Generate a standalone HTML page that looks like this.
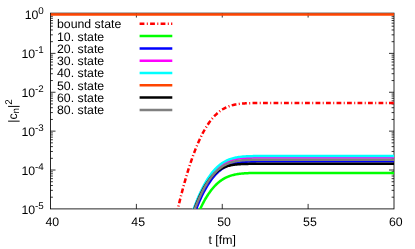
<!DOCTYPE html>
<html><head><meta charset="utf-8"><title>plot</title><style>
html,body{margin:0;padding:0;background:#fff;overflow:hidden}
svg{display:block}
text{text-rendering:geometricPrecision;font-family:"Liberation Sans",sans-serif;font-size:12.3px;fill:#000}
.s{font-size:9.8px}
</style></head><body>
<svg width="415" height="249" viewBox="0 0 415 249">
<rect x="0" y="0" width="415" height="249" fill="#fff"/>
<defs><filter id="b" x="0" y="0" width="415" height="249" filterUnits="userSpaceOnUse"><feGaussianBlur stdDeviation="0.3"/></filter><clipPath id="c"><rect x="50.50" y="11.15" width="343.50" height="197.75"/></clipPath></defs>
<g filter="url(#b)">
<g fill="none" stroke="#000" stroke-width="0.85">
<path d="M50.50,14.50h5.00M394.00,14.50h-5.00M50.50,41.68h2.40M394.00,41.68h-2.40M50.50,34.83h2.40M394.00,34.83h-2.40M50.50,29.97h2.40M394.00,29.97h-2.40M50.50,26.20h2.40M394.00,26.20h-2.40M50.50,23.13h2.40M394.00,23.13h-2.40M50.50,20.52h2.40M394.00,20.52h-2.40M50.50,18.27h2.40M394.00,18.27h-2.40M50.50,16.28h2.40M394.00,16.28h-2.40M50.50,53.38h5.00M394.00,53.38h-5.00M50.50,80.56h2.40M394.00,80.56h-2.40M50.50,73.71h2.40M394.00,73.71h-2.40M50.50,68.85h2.40M394.00,68.85h-2.40M50.50,65.08h2.40M394.00,65.08h-2.40M50.50,62.01h2.40M394.00,62.01h-2.40M50.50,59.40h2.40M394.00,59.40h-2.40M50.50,57.15h2.40M394.00,57.15h-2.40M50.50,55.16h2.40M394.00,55.16h-2.40M50.50,92.26h5.00M394.00,92.26h-5.00M50.50,119.44h2.40M394.00,119.44h-2.40M50.50,112.59h2.40M394.00,112.59h-2.40M50.50,107.73h2.40M394.00,107.73h-2.40M50.50,103.96h2.40M394.00,103.96h-2.40M50.50,100.89h2.40M394.00,100.89h-2.40M50.50,98.28h2.40M394.00,98.28h-2.40M50.50,96.03h2.40M394.00,96.03h-2.40M50.50,94.04h2.40M394.00,94.04h-2.40M50.50,131.14h5.00M394.00,131.14h-5.00M50.50,158.32h2.40M394.00,158.32h-2.40M50.50,151.47h2.40M394.00,151.47h-2.40M50.50,146.61h2.40M394.00,146.61h-2.40M50.50,142.84h2.40M394.00,142.84h-2.40M50.50,139.77h2.40M394.00,139.77h-2.40M50.50,137.16h2.40M394.00,137.16h-2.40M50.50,134.91h2.40M394.00,134.91h-2.40M50.50,132.92h2.40M394.00,132.92h-2.40M50.50,170.02h5.00M394.00,170.02h-5.00M50.50,197.20h2.40M394.00,197.20h-2.40M50.50,190.35h2.40M394.00,190.35h-2.40M50.50,185.49h2.40M394.00,185.49h-2.40M50.50,181.72h2.40M394.00,181.72h-2.40M50.50,178.65h2.40M394.00,178.65h-2.40M50.50,176.04h2.40M394.00,176.04h-2.40M50.50,173.79h2.40M394.00,173.79h-2.40M50.50,171.80h2.40M394.00,171.80h-2.40M136.38,208.90v-5.00M136.38,13.15v4.40M222.25,208.90v-5.00M222.25,13.15v4.40M308.12,208.90v-5.00M308.12,13.15v4.40" stroke-width="0.8"/>
<rect x="50.50" y="13.15" width="343.50" height="195.75"/>
</g>
<g fill="none" stroke-width="2.50" stroke-linejoin="round" clip-path="url(#c)">
<path d="M176.74,213.52 L177.59,209.81 L178.45,206.17 L179.31,202.61 L180.17,199.13 L181.03,195.72 L181.89,192.39 L182.75,189.13 L183.61,185.95 L184.46,182.84 L185.32,179.80 L186.18,176.84 L187.04,173.94 L187.90,171.13 L188.76,168.38 L189.62,165.70 L190.48,163.09 L191.33,160.56 L192.19,158.09 L193.05,155.69 L193.91,153.36 L194.77,151.10 L195.63,148.90 L196.49,146.77 L197.35,144.71 L198.20,142.71 L199.06,140.78 L199.92,138.91 L200.78,137.10 L201.64,135.35 L202.50,133.67 L203.36,132.04 L204.22,130.48 L205.07,128.97 L205.93,127.53 L206.79,126.13 L207.65,124.80 L208.51,123.52 L209.37,122.29 L210.23,121.12 L211.09,119.99 L211.94,118.92 L212.80,117.90 L213.66,116.92 L214.52,115.99 L215.38,115.11 L216.24,114.28 L217.10,113.48 L217.96,112.73 L218.81,112.02 L219.67,111.35 L220.53,110.72 L221.39,110.12 L222.25,109.56 L223.11,109.03 L223.97,108.54 L224.83,108.08 L225.68,107.65 L226.54,107.25 L227.40,106.88 L228.26,106.53 L229.12,106.21 L229.98,105.91 L230.84,105.64 L231.70,105.38 L232.55,105.15 L233.41,104.94 L234.27,104.74 L235.13,104.56 L235.99,104.40 L236.85,104.25 L237.71,104.11 L238.57,103.99 L239.42,103.88 L240.28,103.78 L241.14,103.69 L242.00,103.61 L242.86,103.53 L243.72,103.47 L244.58,103.41 L245.44,103.36 L246.29,103.31 L247.15,103.27 L248.01,103.24 L248.87,103.20 L249.73,103.18 L250.59,103.15 L251.45,103.13 L252.31,103.11 L253.16,103.10 L254.02,103.08 L254.88,103.07 L255.74,103.06 L256.60,103.05 L257.46,103.04 L258.32,103.04 L259.18,103.03 L260.03,103.03 L260.89,103.02 L261.75,103.02 L262.61,103.01 L263.47,103.01 L264.33,103.01 L265.19,103.01 L266.05,103.01 L266.90,103.01 L267.76,103.00 L268.62,103.00 L269.48,103.00 L270.34,103.00 L271.20,103.00 L272.06,103.00 L272.92,103.00 L273.77,103.00 L274.63,103.00 L275.49,103.00 L276.35,103.00 L277.21,103.00 L278.07,103.00 L278.93,103.00 L279.79,103.00 L280.64,103.00 L281.50,103.00 L282.36,103.00 L283.22,103.00 L284.08,103.00 L284.94,103.00 L285.80,103.00 L286.66,103.00 L287.51,103.00 L288.37,103.00 L289.23,103.00 L290.09,103.00 L290.95,103.00 L291.81,103.00 L292.67,103.00 L293.53,103.00 L294.38,103.00 L295.24,103.00 L296.10,103.00 L296.96,103.00 L297.82,103.00 L298.68,103.00 L299.54,103.00 L300.40,103.00 L301.25,103.00 L302.11,103.00 L302.97,103.00 L303.83,103.00 L304.69,103.00 L305.55,103.00 L306.41,103.00 L307.27,103.00 L308.12,103.00 L308.98,103.00 L309.84,103.00 L310.70,103.00 L311.56,103.00 L312.42,103.00 L313.28,103.00 L314.14,103.00 L314.99,103.00 L315.85,103.00 L316.71,103.00 L317.57,103.00 L318.43,103.00 L319.29,103.00 L320.15,103.00 L321.01,103.00 L321.86,103.00 L322.72,103.00 L323.58,103.00 L324.44,103.00 L325.30,103.00 L326.16,103.00 L327.02,103.00 L327.88,103.00 L328.73,103.00 L329.59,103.00 L330.45,103.00 L331.31,103.00 L332.17,103.00 L333.03,103.00 L333.89,103.00 L334.75,103.00 L335.60,103.00 L336.46,103.00 L337.32,103.00 L338.18,103.00 L339.04,103.00 L339.90,103.00 L340.76,103.00 L341.62,103.00 L342.47,103.00 L343.33,103.00 L344.19,103.00 L345.05,103.00 L345.91,103.00 L346.77,103.00 L347.63,103.00 L348.49,103.00 L349.34,103.00 L350.20,103.00 L351.06,103.00 L351.92,103.00 L352.78,103.00 L353.64,103.00 L354.50,103.00 L355.36,103.00 L356.21,103.00 L357.07,103.00 L357.93,103.00 L358.79,103.00 L359.65,103.00 L360.51,103.00 L361.37,103.00 L362.23,103.00 L363.08,103.00 L363.94,103.00 L364.80,103.00 L365.66,103.00 L366.52,103.00 L367.38,103.00 L368.24,103.00 L369.10,103.00 L369.95,103.00 L370.81,103.00 L371.67,103.00 L372.53,103.00 L373.39,103.00 L374.25,103.00 L375.11,103.00 L375.97,103.00 L376.82,103.00 L377.68,103.00 L378.54,103.00 L379.40,103.00 L380.26,103.00 L381.12,103.00 L381.98,103.00 L382.84,103.00 L383.69,103.00 L384.55,103.00 L385.41,103.00 L386.27,103.00 L387.13,103.00 L387.99,103.00 L388.85,103.00 L389.71,103.00 L390.56,103.00 L391.42,103.00 L392.28,103.00 L393.14,103.00 L394.00,103.00" stroke="#ff0000" stroke-dasharray="4.8 2.4 1 2.3"/>
<path d="M198.20,213.40 L199.06,211.44 L199.92,209.55 L200.78,207.71 L201.64,205.94 L202.50,204.24 L203.36,202.59 L204.22,201.00 L205.07,199.47 L205.93,198.00 L206.79,196.58 L207.65,195.23 L208.51,193.92 L209.37,192.67 L210.23,191.48 L211.09,190.34 L211.94,189.24 L212.80,188.20 L213.66,187.21 L214.52,186.26 L215.38,185.36 L216.24,184.50 L217.10,183.69 L217.96,182.93 L218.81,182.20 L219.67,181.51 L220.53,180.86 L221.39,180.25 L222.25,179.68 L223.11,179.14 L223.97,178.64 L224.83,178.16 L225.68,177.72 L226.54,177.31 L227.40,176.92 L228.26,176.57 L229.12,176.23 L229.98,175.93 L230.84,175.64 L231.70,175.38 L232.55,175.14 L233.41,174.92 L234.27,174.72 L235.13,174.53 L235.99,174.36 L236.85,174.21 L237.71,174.06 L238.57,173.94 L239.42,173.82 L240.28,173.72 L241.14,173.62 L242.00,173.54 L242.86,173.46 L243.72,173.39 L244.58,173.33 L245.44,173.28 L246.29,173.23 L247.15,173.19 L248.01,173.15 L248.87,173.12 L249.73,173.09 L250.59,173.06 L251.45,173.04 L252.31,173.02 L253.16,173.00 L254.02,172.99 L254.88,172.97 L255.74,172.96 L256.60,172.95 L257.46,172.95 L258.32,172.94 L259.18,172.93 L260.03,172.93 L260.89,172.92 L261.75,172.92 L262.61,172.92 L263.47,172.91 L264.33,172.91 L265.19,172.91 L266.05,172.91 L266.90,172.91 L267.76,172.91 L268.62,172.90 L269.48,172.90 L270.34,172.90 L271.20,172.90 L272.06,172.90 L272.92,172.90 L273.77,172.90 L274.63,172.90 L275.49,172.90 L276.35,172.90 L277.21,172.90 L278.07,172.90 L278.93,172.90 L279.79,172.90 L280.64,172.90 L281.50,172.90 L282.36,172.90 L283.22,172.90 L284.08,172.90 L284.94,172.90 L285.80,172.90 L286.66,172.90 L287.51,172.90 L288.37,172.90 L289.23,172.90 L290.09,172.90 L290.95,172.90 L291.81,172.90 L292.67,172.90 L293.53,172.90 L294.38,172.90 L295.24,172.90 L296.10,172.90 L296.96,172.90 L297.82,172.90 L298.68,172.90 L299.54,172.90 L300.40,172.90 L301.25,172.90 L302.11,172.90 L302.97,172.90 L303.83,172.90 L304.69,172.90 L305.55,172.90 L306.41,172.90 L307.27,172.90 L308.12,172.90 L308.98,172.90 L309.84,172.90 L310.70,172.90 L311.56,172.90 L312.42,172.90 L313.28,172.90 L314.14,172.90 L314.99,172.90 L315.85,172.90 L316.71,172.90 L317.57,172.90 L318.43,172.90 L319.29,172.90 L320.15,172.90 L321.01,172.90 L321.86,172.90 L322.72,172.90 L323.58,172.90 L324.44,172.90 L325.30,172.90 L326.16,172.90 L327.02,172.90 L327.88,172.90 L328.73,172.90 L329.59,172.90 L330.45,172.90 L331.31,172.90 L332.17,172.90 L333.03,172.90 L333.89,172.90 L334.75,172.90 L335.60,172.90 L336.46,172.90 L337.32,172.90 L338.18,172.90 L339.04,172.90 L339.90,172.90 L340.76,172.90 L341.62,172.90 L342.47,172.90 L343.33,172.90 L344.19,172.90 L345.05,172.90 L345.91,172.90 L346.77,172.90 L347.63,172.90 L348.49,172.90 L349.34,172.90 L350.20,172.90 L351.06,172.90 L351.92,172.90 L352.78,172.90 L353.64,172.90 L354.50,172.90 L355.36,172.90 L356.21,172.90 L357.07,172.90 L357.93,172.90 L358.79,172.90 L359.65,172.90 L360.51,172.90 L361.37,172.90 L362.23,172.90 L363.08,172.90 L363.94,172.90 L364.80,172.90 L365.66,172.90 L366.52,172.90 L367.38,172.90 L368.24,172.90 L369.10,172.90 L369.95,172.90 L370.81,172.90 L371.67,172.90 L372.53,172.90 L373.39,172.90 L374.25,172.90 L375.11,172.90 L375.97,172.90 L376.82,172.90 L377.68,172.90 L378.54,172.90 L379.40,172.90 L380.26,172.90 L381.12,172.90 L381.98,172.90 L382.84,172.90 L383.69,172.90 L384.55,172.90 L385.41,172.90 L386.27,172.90 L387.13,172.90 L387.99,172.90 L388.85,172.90 L389.71,172.90 L390.56,172.90 L391.42,172.90 L392.28,172.90 L393.14,172.90 L394.00,172.90" stroke="#00ff00"/>
<path d="M194.77,212.82 L195.63,210.52 L196.49,208.29 L197.35,206.13 L198.20,204.03 L199.06,202.00 L199.92,200.04 L200.78,198.13 L201.64,196.30 L202.50,194.52 L203.36,192.80 L204.22,191.15 L205.07,189.56 L205.93,188.02 L206.79,186.54 L207.65,185.12 L208.51,183.76 L209.37,182.45 L210.23,181.20 L211.09,180.00 L211.94,178.85 L212.80,177.75 L213.66,176.70 L214.52,175.70 L215.38,174.75 L216.24,173.85 L217.10,172.99 L217.96,172.17 L218.81,171.40 L219.67,170.67 L220.53,169.98 L221.39,169.33 L222.25,168.71 L223.11,168.14 L223.97,167.59 L224.83,167.08 L225.68,166.61 L226.54,166.16 L227.40,165.75 L228.26,165.36 L229.12,165.00 L229.98,164.67 L230.84,164.36 L231.70,164.07 L232.55,163.81 L233.41,163.56 L234.27,163.34 L235.13,163.14 L235.99,162.95 L236.85,162.78 L237.71,162.62 L238.57,162.48 L239.42,162.35 L240.28,162.23 L241.14,162.13 L242.00,162.03 L242.86,161.95 L243.72,161.87 L244.58,161.80 L245.44,161.74 L246.29,161.68 L247.15,161.63 L248.01,161.59 L248.87,161.55 L249.73,161.52 L250.59,161.49 L251.45,161.46 L252.31,161.44 L253.16,161.42 L254.02,161.40 L254.88,161.39 L255.74,161.38 L256.60,161.36 L257.46,161.35 L258.32,161.35 L259.18,161.34 L260.03,161.33 L260.89,161.33 L261.75,161.32 L262.61,161.32 L263.47,161.32 L264.33,161.31 L265.19,161.31 L266.05,161.31 L266.90,161.31 L267.76,161.31 L268.62,161.31 L269.48,161.30 L270.34,161.30 L271.20,161.30 L272.06,161.30 L272.92,161.30 L273.77,161.30 L274.63,161.30 L275.49,161.30 L276.35,161.30 L277.21,161.30 L278.07,161.30 L278.93,161.30 L279.79,161.30 L280.64,161.30 L281.50,161.30 L282.36,161.30 L283.22,161.30 L284.08,161.30 L284.94,161.30 L285.80,161.30 L286.66,161.30 L287.51,161.30 L288.37,161.30 L289.23,161.30 L290.09,161.30 L290.95,161.30 L291.81,161.30 L292.67,161.30 L293.53,161.30 L294.38,161.30 L295.24,161.30 L296.10,161.30 L296.96,161.30 L297.82,161.30 L298.68,161.30 L299.54,161.30 L300.40,161.30 L301.25,161.30 L302.11,161.30 L302.97,161.30 L303.83,161.30 L304.69,161.30 L305.55,161.30 L306.41,161.30 L307.27,161.30 L308.12,161.30 L308.98,161.30 L309.84,161.30 L310.70,161.30 L311.56,161.30 L312.42,161.30 L313.28,161.30 L314.14,161.30 L314.99,161.30 L315.85,161.30 L316.71,161.30 L317.57,161.30 L318.43,161.30 L319.29,161.30 L320.15,161.30 L321.01,161.30 L321.86,161.30 L322.72,161.30 L323.58,161.30 L324.44,161.30 L325.30,161.30 L326.16,161.30 L327.02,161.30 L327.88,161.30 L328.73,161.30 L329.59,161.30 L330.45,161.30 L331.31,161.30 L332.17,161.30 L333.03,161.30 L333.89,161.30 L334.75,161.30 L335.60,161.30 L336.46,161.30 L337.32,161.30 L338.18,161.30 L339.04,161.30 L339.90,161.30 L340.76,161.30 L341.62,161.30 L342.47,161.30 L343.33,161.30 L344.19,161.30 L345.05,161.30 L345.91,161.30 L346.77,161.30 L347.63,161.30 L348.49,161.30 L349.34,161.30 L350.20,161.30 L351.06,161.30 L351.92,161.30 L352.78,161.30 L353.64,161.30 L354.50,161.30 L355.36,161.30 L356.21,161.30 L357.07,161.30 L357.93,161.30 L358.79,161.30 L359.65,161.30 L360.51,161.30 L361.37,161.30 L362.23,161.30 L363.08,161.30 L363.94,161.30 L364.80,161.30 L365.66,161.30 L366.52,161.30 L367.38,161.30 L368.24,161.30 L369.10,161.30 L369.95,161.30 L370.81,161.30 L371.67,161.30 L372.53,161.30 L373.39,161.30 L374.25,161.30 L375.11,161.30 L375.97,161.30 L376.82,161.30 L377.68,161.30 L378.54,161.30 L379.40,161.30 L380.26,161.30 L381.12,161.30 L381.98,161.30 L382.84,161.30 L383.69,161.30 L384.55,161.30 L385.41,161.30 L386.27,161.30 L387.13,161.30 L387.99,161.30 L388.85,161.30 L389.71,161.30 L390.56,161.30 L391.42,161.30 L392.28,161.30 L393.14,161.30 L394.00,161.30" stroke="#0000ff"/>
<path d="M192.19,213.91 L193.05,211.48 L193.91,209.11 L194.77,206.81 L195.63,204.58 L196.49,202.41 L197.35,200.32 L198.20,198.28 L199.06,196.31 L199.92,194.41 L200.78,192.57 L201.64,190.79 L202.50,189.07 L203.36,187.41 L204.22,185.82 L205.07,184.28 L205.93,182.80 L206.79,181.38 L207.65,180.01 L208.51,178.70 L209.37,177.45 L210.23,176.24 L211.09,175.09 L211.94,173.99 L212.80,172.94 L213.66,171.94 L214.52,170.99 L215.38,170.08 L216.24,169.22 L217.10,168.40 L217.96,167.63 L218.81,166.90 L219.67,166.21 L220.53,165.55 L221.39,164.94 L222.25,164.36 L223.11,163.81 L223.97,163.30 L224.83,162.83 L225.68,162.38 L226.54,161.96 L227.40,161.58 L228.26,161.21 L229.12,160.88 L229.98,160.57 L230.84,160.28 L231.70,160.02 L232.55,159.77 L233.41,159.55 L234.27,159.34 L235.13,159.15 L235.99,158.98 L236.85,158.83 L237.71,158.68 L238.57,158.55 L239.42,158.44 L240.28,158.33 L241.14,158.23 L242.00,158.15 L242.86,158.07 L243.72,158.00 L244.58,157.94 L245.44,157.89 L246.29,157.84 L247.15,157.79 L248.01,157.75 L248.87,157.72 L249.73,157.69 L250.59,157.66 L251.45,157.64 L252.31,157.62 L253.16,157.60 L254.02,157.59 L254.88,157.58 L255.74,157.56 L256.60,157.56 L257.46,157.55 L258.32,157.54 L259.18,157.53 L260.03,157.53 L260.89,157.52 L261.75,157.52 L262.61,157.52 L263.47,157.51 L264.33,157.51 L265.19,157.51 L266.05,157.51 L266.90,157.51 L267.76,157.51 L268.62,157.50 L269.48,157.50 L270.34,157.50 L271.20,157.50 L272.06,157.50 L272.92,157.50 L273.77,157.50 L274.63,157.50 L275.49,157.50 L276.35,157.50 L277.21,157.50 L278.07,157.50 L278.93,157.50 L279.79,157.50 L280.64,157.50 L281.50,157.50 L282.36,157.50 L283.22,157.50 L284.08,157.50 L284.94,157.50 L285.80,157.50 L286.66,157.50 L287.51,157.50 L288.37,157.50 L289.23,157.50 L290.09,157.50 L290.95,157.50 L291.81,157.50 L292.67,157.50 L293.53,157.50 L294.38,157.50 L295.24,157.50 L296.10,157.50 L296.96,157.50 L297.82,157.50 L298.68,157.50 L299.54,157.50 L300.40,157.50 L301.25,157.50 L302.11,157.50 L302.97,157.50 L303.83,157.50 L304.69,157.50 L305.55,157.50 L306.41,157.50 L307.27,157.50 L308.12,157.50 L308.98,157.50 L309.84,157.50 L310.70,157.50 L311.56,157.50 L312.42,157.50 L313.28,157.50 L314.14,157.50 L314.99,157.50 L315.85,157.50 L316.71,157.50 L317.57,157.50 L318.43,157.50 L319.29,157.50 L320.15,157.50 L321.01,157.50 L321.86,157.50 L322.72,157.50 L323.58,157.50 L324.44,157.50 L325.30,157.50 L326.16,157.50 L327.02,157.50 L327.88,157.50 L328.73,157.50 L329.59,157.50 L330.45,157.50 L331.31,157.50 L332.17,157.50 L333.03,157.50 L333.89,157.50 L334.75,157.50 L335.60,157.50 L336.46,157.50 L337.32,157.50 L338.18,157.50 L339.04,157.50 L339.90,157.50 L340.76,157.50 L341.62,157.50 L342.47,157.50 L343.33,157.50 L344.19,157.50 L345.05,157.50 L345.91,157.50 L346.77,157.50 L347.63,157.50 L348.49,157.50 L349.34,157.50 L350.20,157.50 L351.06,157.50 L351.92,157.50 L352.78,157.50 L353.64,157.50 L354.50,157.50 L355.36,157.50 L356.21,157.50 L357.07,157.50 L357.93,157.50 L358.79,157.50 L359.65,157.50 L360.51,157.50 L361.37,157.50 L362.23,157.50 L363.08,157.50 L363.94,157.50 L364.80,157.50 L365.66,157.50 L366.52,157.50 L367.38,157.50 L368.24,157.50 L369.10,157.50 L369.95,157.50 L370.81,157.50 L371.67,157.50 L372.53,157.50 L373.39,157.50 L374.25,157.50 L375.11,157.50 L375.97,157.50 L376.82,157.50 L377.68,157.50 L378.54,157.50 L379.40,157.50 L380.26,157.50 L381.12,157.50 L381.98,157.50 L382.84,157.50 L383.69,157.50 L384.55,157.50 L385.41,157.50 L386.27,157.50 L387.13,157.50 L387.99,157.50 L388.85,157.50 L389.71,157.50 L390.56,157.50 L391.42,157.50 L392.28,157.50 L393.14,157.50 L394.00,157.50" stroke="#ff00ff"/>
<path d="M192.19,213.31 L193.05,210.85 L193.91,208.45 L194.77,206.13 L195.63,203.88 L196.49,201.69 L197.35,199.56 L198.20,197.51 L199.06,195.52 L199.92,193.59 L200.78,191.72 L201.64,189.92 L202.50,188.18 L203.36,186.50 L204.22,184.89 L205.07,183.33 L205.93,181.83 L206.79,180.38 L207.65,179.00 L208.51,177.67 L209.37,176.39 L210.23,175.17 L211.09,174.00 L211.94,172.88 L212.80,171.82 L213.66,170.80 L214.52,169.83 L215.38,168.90 L216.24,168.03 L217.10,167.19 L217.96,166.40 L218.81,165.66 L219.67,164.95 L220.53,164.28 L221.39,163.65 L222.25,163.06 L223.11,162.51 L223.97,161.98 L224.83,161.50 L225.68,161.04 L226.54,160.61 L227.40,160.21 L228.26,159.84 L229.12,159.50 L229.98,159.18 L230.84,158.88 L231.70,158.61 L232.55,158.36 L233.41,158.13 L234.27,157.92 L235.13,157.72 L235.99,157.54 L236.85,157.38 L237.71,157.23 L238.57,157.10 L239.42,156.98 L240.28,156.87 L241.14,156.77 L242.00,156.68 L242.86,156.60 L243.72,156.53 L244.58,156.46 L245.44,156.40 L246.29,156.35 L247.15,156.31 L248.01,156.27 L248.87,156.23 L249.73,156.20 L250.59,156.17 L251.45,156.15 L252.31,156.13 L253.16,156.11 L254.02,156.09 L254.88,156.08 L255.74,156.07 L256.60,156.06 L257.46,156.05 L258.32,156.04 L259.18,156.04 L260.03,156.03 L260.89,156.03 L261.75,156.02 L262.61,156.02 L263.47,156.01 L264.33,156.01 L265.19,156.01 L266.05,156.01 L266.90,156.01 L267.76,156.01 L268.62,156.00 L269.48,156.00 L270.34,156.00 L271.20,156.00 L272.06,156.00 L272.92,156.00 L273.77,156.00 L274.63,156.00 L275.49,156.00 L276.35,156.00 L277.21,156.00 L278.07,156.00 L278.93,156.00 L279.79,156.00 L280.64,156.00 L281.50,156.00 L282.36,156.00 L283.22,156.00 L284.08,156.00 L284.94,156.00 L285.80,156.00 L286.66,156.00 L287.51,156.00 L288.37,156.00 L289.23,156.00 L290.09,156.00 L290.95,156.00 L291.81,156.00 L292.67,156.00 L293.53,156.00 L294.38,156.00 L295.24,156.00 L296.10,156.00 L296.96,156.00 L297.82,156.00 L298.68,156.00 L299.54,156.00 L300.40,156.00 L301.25,156.00 L302.11,156.00 L302.97,156.00 L303.83,156.00 L304.69,156.00 L305.55,156.00 L306.41,156.00 L307.27,156.00 L308.12,156.00 L308.98,156.00 L309.84,156.00 L310.70,156.00 L311.56,156.00 L312.42,156.00 L313.28,156.00 L314.14,156.00 L314.99,156.00 L315.85,156.00 L316.71,156.00 L317.57,156.00 L318.43,156.00 L319.29,156.00 L320.15,156.00 L321.01,156.00 L321.86,156.00 L322.72,156.00 L323.58,156.00 L324.44,156.00 L325.30,156.00 L326.16,156.00 L327.02,156.00 L327.88,156.00 L328.73,156.00 L329.59,156.00 L330.45,156.00 L331.31,156.00 L332.17,156.00 L333.03,156.00 L333.89,156.00 L334.75,156.00 L335.60,156.00 L336.46,156.00 L337.32,156.00 L338.18,156.00 L339.04,156.00 L339.90,156.00 L340.76,156.00 L341.62,156.00 L342.47,156.00 L343.33,156.00 L344.19,156.00 L345.05,156.00 L345.91,156.00 L346.77,156.00 L347.63,156.00 L348.49,156.00 L349.34,156.00 L350.20,156.00 L351.06,156.00 L351.92,156.00 L352.78,156.00 L353.64,156.00 L354.50,156.00 L355.36,156.00 L356.21,156.00 L357.07,156.00 L357.93,156.00 L358.79,156.00 L359.65,156.00 L360.51,156.00 L361.37,156.00 L362.23,156.00 L363.08,156.00 L363.94,156.00 L364.80,156.00 L365.66,156.00 L366.52,156.00 L367.38,156.00 L368.24,156.00 L369.10,156.00 L369.95,156.00 L370.81,156.00 L371.67,156.00 L372.53,156.00 L373.39,156.00 L374.25,156.00 L375.11,156.00 L375.97,156.00 L376.82,156.00 L377.68,156.00 L378.54,156.00 L379.40,156.00 L380.26,156.00 L381.12,156.00 L381.98,156.00 L382.84,156.00 L383.69,156.00 L384.55,156.00 L385.41,156.00 L386.27,156.00 L387.13,156.00 L387.99,156.00 L388.85,156.00 L389.71,156.00 L390.56,156.00 L391.42,156.00 L392.28,156.00 L393.14,156.00 L394.00,156.00" stroke="#00ffff"/>
<path d="M50.50,14.50H394.00" stroke="#ff4500"/>
<path d="M193.05,212.99 L193.91,210.57 L194.77,208.22 L195.63,205.96 L196.49,203.77 L197.35,201.66 L198.20,199.62 L199.06,197.66 L199.92,195.77 L200.78,193.95 L201.64,192.21 L202.50,190.53 L203.36,188.93 L204.22,187.39 L205.07,185.92 L205.93,184.51 L206.79,183.17 L207.65,181.89 L208.51,180.67 L209.37,179.51 L210.23,178.41 L211.09,177.36 L211.94,176.37 L212.80,175.44 L213.66,174.56 L214.52,173.72 L215.38,172.94 L216.24,172.20 L217.10,171.51 L217.96,170.87 L218.81,170.26 L219.67,169.70 L220.53,169.17 L221.39,168.69 L222.25,168.23 L223.11,167.81 L223.97,167.43 L224.83,167.07 L225.68,166.74 L226.54,166.44 L227.40,166.17 L228.26,165.91 L229.12,165.69 L229.98,165.48 L230.84,165.29 L231.70,165.12 L232.55,164.96 L233.41,164.83 L234.27,164.70 L235.13,164.59 L235.99,164.49 L236.85,164.40 L237.71,164.32 L238.57,164.25 L239.42,164.19 L240.28,164.14 L241.14,164.09 L242.00,164.05 L242.86,164.01 L243.72,163.98 L244.58,163.96 L245.44,163.93 L246.29,163.91 L247.15,163.89 L248.01,163.88 L248.87,163.87 L249.73,163.86 L250.59,163.85 L251.45,163.84 L252.31,163.83 L253.16,163.83 L254.02,163.82 L254.88,163.82 L255.74,163.81 L256.60,163.81 L257.46,163.81 L258.32,163.81 L259.18,163.81 L260.03,163.81 L260.89,163.80 L261.75,163.80 L262.61,163.80 L263.47,163.80 L264.33,163.80 L265.19,163.80 L266.05,163.80 L266.90,163.80 L267.76,163.80 L268.62,163.80 L269.48,163.80 L270.34,163.80 L271.20,163.80 L272.06,163.80 L272.92,163.80 L273.77,163.80 L274.63,163.80 L275.49,163.80 L276.35,163.80 L277.21,163.80 L278.07,163.80 L278.93,163.80 L279.79,163.80 L280.64,163.80 L281.50,163.80 L282.36,163.80 L283.22,163.80 L284.08,163.80 L284.94,163.80 L285.80,163.80 L286.66,163.80 L287.51,163.80 L288.37,163.80 L289.23,163.80 L290.09,163.80 L290.95,163.80 L291.81,163.80 L292.67,163.80 L293.53,163.80 L294.38,163.80 L295.24,163.80 L296.10,163.80 L296.96,163.80 L297.82,163.80 L298.68,163.80 L299.54,163.80 L300.40,163.80 L301.25,163.80 L302.11,163.80 L302.97,163.80 L303.83,163.80 L304.69,163.80 L305.55,163.80 L306.41,163.80 L307.27,163.80 L308.12,163.80 L308.98,163.80 L309.84,163.80 L310.70,163.80 L311.56,163.80 L312.42,163.80 L313.28,163.80 L314.14,163.80 L314.99,163.80 L315.85,163.80 L316.71,163.80 L317.57,163.80 L318.43,163.80 L319.29,163.80 L320.15,163.80 L321.01,163.80 L321.86,163.80 L322.72,163.80 L323.58,163.80 L324.44,163.80 L325.30,163.80 L326.16,163.80 L327.02,163.80 L327.88,163.80 L328.73,163.80 L329.59,163.80 L330.45,163.80 L331.31,163.80 L332.17,163.80 L333.03,163.80 L333.89,163.80 L334.75,163.80 L335.60,163.80 L336.46,163.80 L337.32,163.80 L338.18,163.80 L339.04,163.80 L339.90,163.80 L340.76,163.80 L341.62,163.80 L342.47,163.80 L343.33,163.80 L344.19,163.80 L345.05,163.80 L345.91,163.80 L346.77,163.80 L347.63,163.80 L348.49,163.80 L349.34,163.80 L350.20,163.80 L351.06,163.80 L351.92,163.80 L352.78,163.80 L353.64,163.80 L354.50,163.80 L355.36,163.80 L356.21,163.80 L357.07,163.80 L357.93,163.80 L358.79,163.80 L359.65,163.80 L360.51,163.80 L361.37,163.80 L362.23,163.80 L363.08,163.80 L363.94,163.80 L364.80,163.80 L365.66,163.80 L366.52,163.80 L367.38,163.80 L368.24,163.80 L369.10,163.80 L369.95,163.80 L370.81,163.80 L371.67,163.80 L372.53,163.80 L373.39,163.80 L374.25,163.80 L375.11,163.80 L375.97,163.80 L376.82,163.80 L377.68,163.80 L378.54,163.80 L379.40,163.80 L380.26,163.80 L381.12,163.80 L381.98,163.80 L382.84,163.80 L383.69,163.80 L384.55,163.80 L385.41,163.80 L386.27,163.80 L387.13,163.80 L387.99,163.80 L388.85,163.80 L389.71,163.80 L390.56,163.80 L391.42,163.80 L392.28,163.80 L393.14,163.80 L394.00,163.80" stroke="#000000"/>
<path d="M193.05,213.68 L193.91,211.31 L194.77,209.01 L195.63,206.78 L196.49,204.61 L197.35,202.52 L198.20,200.48 L199.06,198.51 L199.92,196.61 L200.78,194.77 L201.64,192.99 L202.50,191.27 L203.36,189.61 L204.22,188.02 L205.07,186.48 L205.93,185.00 L206.79,183.58 L207.65,182.21 L208.51,180.90 L209.37,179.65 L210.23,178.44 L211.09,177.29 L211.94,176.19 L212.80,175.14 L213.66,174.14 L214.52,173.19 L215.38,172.28 L216.24,171.42 L217.10,170.60 L217.96,169.83 L218.81,169.10 L219.67,168.41 L220.53,167.75 L221.39,167.14 L222.25,166.56 L223.11,166.01 L223.97,165.50 L224.83,165.03 L225.68,164.58 L226.54,164.16 L227.40,163.78 L228.26,163.41 L229.12,163.08 L229.98,162.77 L230.84,162.48 L231.70,162.22 L232.55,161.97 L233.41,161.75 L234.27,161.54 L235.13,161.35 L235.99,161.18 L236.85,161.03 L237.71,160.88 L238.57,160.75 L239.42,160.64 L240.28,160.53 L241.14,160.43 L242.00,160.35 L242.86,160.27 L243.72,160.20 L244.58,160.14 L245.44,160.09 L246.29,160.04 L247.15,159.99 L248.01,159.95 L248.87,159.92 L249.73,159.89 L250.59,159.86 L251.45,159.84 L252.31,159.82 L253.16,159.80 L254.02,159.79 L254.88,159.78 L255.74,159.76 L256.60,159.76 L257.46,159.75 L258.32,159.74 L259.18,159.73 L260.03,159.73 L260.89,159.72 L261.75,159.72 L262.61,159.72 L263.47,159.71 L264.33,159.71 L265.19,159.71 L266.05,159.71 L266.90,159.71 L267.76,159.71 L268.62,159.70 L269.48,159.70 L270.34,159.70 L271.20,159.70 L272.06,159.70 L272.92,159.70 L273.77,159.70 L274.63,159.70 L275.49,159.70 L276.35,159.70 L277.21,159.70 L278.07,159.70 L278.93,159.70 L279.79,159.70 L280.64,159.70 L281.50,159.70 L282.36,159.70 L283.22,159.70 L284.08,159.70 L284.94,159.70 L285.80,159.70 L286.66,159.70 L287.51,159.70 L288.37,159.70 L289.23,159.70 L290.09,159.70 L290.95,159.70 L291.81,159.70 L292.67,159.70 L293.53,159.70 L294.38,159.70 L295.24,159.70 L296.10,159.70 L296.96,159.70 L297.82,159.70 L298.68,159.70 L299.54,159.70 L300.40,159.70 L301.25,159.70 L302.11,159.70 L302.97,159.70 L303.83,159.70 L304.69,159.70 L305.55,159.70 L306.41,159.70 L307.27,159.70 L308.12,159.70 L308.98,159.70 L309.84,159.70 L310.70,159.70 L311.56,159.70 L312.42,159.70 L313.28,159.70 L314.14,159.70 L314.99,159.70 L315.85,159.70 L316.71,159.70 L317.57,159.70 L318.43,159.70 L319.29,159.70 L320.15,159.70 L321.01,159.70 L321.86,159.70 L322.72,159.70 L323.58,159.70 L324.44,159.70 L325.30,159.70 L326.16,159.70 L327.02,159.70 L327.88,159.70 L328.73,159.70 L329.59,159.70 L330.45,159.70 L331.31,159.70 L332.17,159.70 L333.03,159.70 L333.89,159.70 L334.75,159.70 L335.60,159.70 L336.46,159.70 L337.32,159.70 L338.18,159.70 L339.04,159.70 L339.90,159.70 L340.76,159.70 L341.62,159.70 L342.47,159.70 L343.33,159.70 L344.19,159.70 L345.05,159.70 L345.91,159.70 L346.77,159.70 L347.63,159.70 L348.49,159.70 L349.34,159.70 L350.20,159.70 L351.06,159.70 L351.92,159.70 L352.78,159.70 L353.64,159.70 L354.50,159.70 L355.36,159.70 L356.21,159.70 L357.07,159.70 L357.93,159.70 L358.79,159.70 L359.65,159.70 L360.51,159.70 L361.37,159.70 L362.23,159.70 L363.08,159.70 L363.94,159.70 L364.80,159.70 L365.66,159.70 L366.52,159.70 L367.38,159.70 L368.24,159.70 L369.10,159.70 L369.95,159.70 L370.81,159.70 L371.67,159.70 L372.53,159.70 L373.39,159.70 L374.25,159.70 L375.11,159.70 L375.97,159.70 L376.82,159.70 L377.68,159.70 L378.54,159.70 L379.40,159.70 L380.26,159.70 L381.12,159.70 L381.98,159.70 L382.84,159.70 L383.69,159.70 L384.55,159.70 L385.41,159.70 L386.27,159.70 L387.13,159.70 L387.99,159.70 L388.85,159.70 L389.71,159.70 L390.56,159.70 L391.42,159.70 L392.28,159.70 L393.14,159.70 L394.00,159.70" stroke="#808080"/>
</g>
<g fill="none" stroke-width="2.50">
<path d="M139.6,23.80H172.3" stroke="#ff0000" stroke-dasharray="4.8 2.4 1 2.3"/>
<path d="M139.6,36.10H172.3" stroke="#00ff00"/>
<path d="M139.6,48.40H172.3" stroke="#0000ff"/>
<path d="M139.6,60.70H172.3" stroke="#ff00ff"/>
<path d="M139.6,73.00H172.3" stroke="#00ffff"/>
<path d="M139.6,85.30H172.3" stroke="#ff4500"/>
<path d="M139.6,97.60H172.3" stroke="#000000"/>
<path d="M139.6,109.90H172.3" stroke="#808080"/>
</g>
<text x="57.0" y="28.45">bound state</text>
<text x="57.0" y="40.68">10. state</text>
<text x="57.0" y="52.91">20. state</text>
<text x="57.0" y="65.14">30. state</text>
<text x="57.0" y="77.37">40. state</text>
<text x="57.0" y="89.60">50. state</text>
<text x="57.0" y="101.83">60. state</text>
<text x="57.0" y="114.06">80. state</text>
<text x="43.8" y="19.30" text-anchor="end">10<tspan class="s" dy="-4.8">0</tspan></text>
<text x="43.8" y="58.18" text-anchor="end">10<tspan class="s" dy="-4.8">-1</tspan></text>
<text x="43.8" y="97.06" text-anchor="end">10<tspan class="s" dy="-4.8">-2</tspan></text>
<text x="43.8" y="135.94" text-anchor="end">10<tspan class="s" dy="-4.8">-3</tspan></text>
<text x="43.8" y="174.82" text-anchor="end">10<tspan class="s" dy="-4.8">-4</tspan></text>
<text x="43.8" y="213.70" text-anchor="end">10<tspan class="s" dy="-4.8">-5</tspan></text>
<text x="52.30" y="225.8" text-anchor="middle">40</text>
<text x="138.18" y="225.8" text-anchor="middle">45</text>
<text x="224.05" y="225.8" text-anchor="middle">50</text>
<text x="309.93" y="225.8" text-anchor="middle">55</text>
<text x="395.80" y="225.8" text-anchor="middle">60</text>
<text x="222.2" y="244.4" text-anchor="middle">t [fm]</text>
<text transform="translate(16.5,122.8) rotate(-90)">|c<tspan class="s" dy="2.3">n</tspan><tspan dy="-2.3">|</tspan><tspan class="s" dy="-4.5">2</tspan></text>
</g>
</svg>
</body></html>
